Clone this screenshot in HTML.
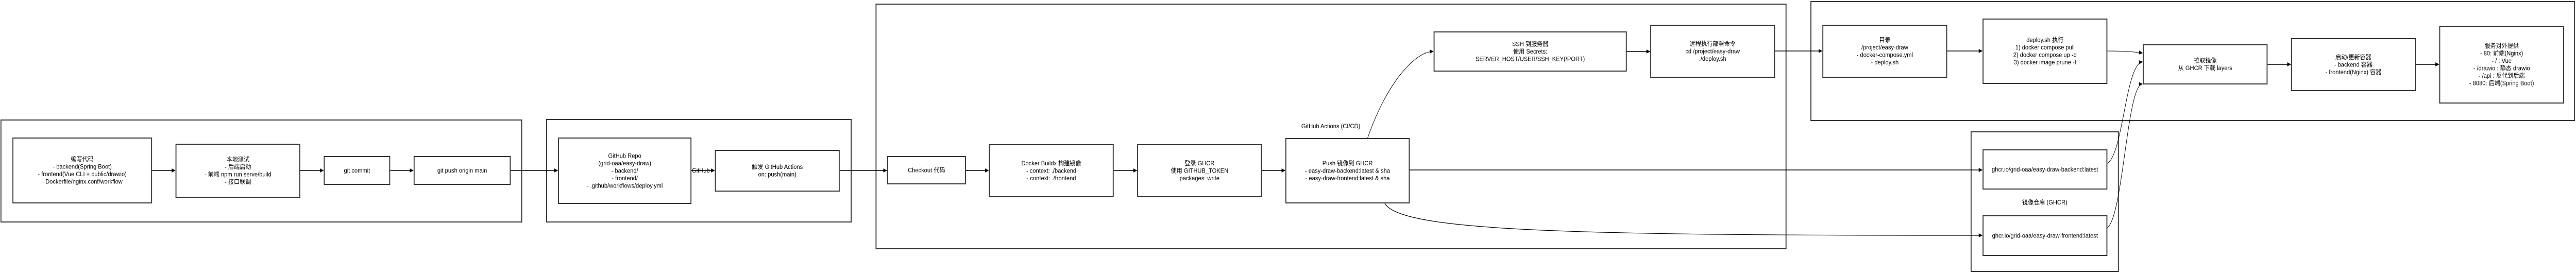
<!DOCTYPE html>
<html><head><meta charset="utf-8"><style>
html,body{margin:0;padding:0;background:#fff;overflow:hidden;height:532px;}
svg{display:block;width:100%;height:532px;}
text{font-family:"Liberation Sans","Noto Sans CJK SC",sans-serif;font-size:12px;fill:#000;}
.m{text-anchor:middle;}
.c{fill:none;stroke:#333;stroke-width:2;}
.b{fill:#fff;stroke:#333;stroke-width:2;}
</style></head><body>
<svg viewBox="0 0 5387 532" preserveAspectRatio="none">
<defs><marker id="a" markerWidth="8" markerHeight="8" refX="7" refY="4" orient="auto" markerUnits="userSpaceOnUse"><path d="M0,0 L8,4 L0,8 z" fill="#000"/></marker></defs>
<rect class="c" x="2" y="233" width="1089" height="198"/>
<rect class="c" x="1143" y="232" width="637" height="199"/>
<rect class="c" x="1832" y="8" width="1903" height="475"/>
<rect class="c" x="3787" y="3" width="1597" height="231"/>
<rect class="c" x="4122" y="256" width="308" height="271"/>
<g stroke="#000" stroke-width="1.5" fill="none" marker-end="url(#a)">
<line x1="318" y1="331" x2="366" y2="331"/>
<line x1="628" y1="331" x2="676" y2="331"/>
<line x1="816" y1="331" x2="864" y2="331"/>
<line x1="1068" y1="331" x2="1166" y2="331"/>
<line x1="1446" y1="331" x2="1494" y2="331"/>
<line x1="1756" y1="331" x2="1854" y2="331"/>
<line x1="2020" y1="331" x2="2067" y2="331"/>
<line x1="2329" y1="331" x2="2377" y2="331"/>
<line x1="2639" y1="331" x2="2687" y2="331"/>
<line x1="2948" y1="330" x2="4145" y2="330"/>
<path d="M2860,268 C2900,160 2960,100 2997,100" stroke-width="1"/>
<line x1="3402" y1="100" x2="3450" y2="100"/>
<line x1="3712" y1="99" x2="3810" y2="99"/>
<line x1="4072" y1="99" x2="4145" y2="99"/>
<path d="M4407,99 C4440,99 4460,100 4480,103" stroke-width="1"/>
<line x1="4742" y1="125" x2="4790" y2="125"/>
<line x1="5052" y1="125" x2="5100" y2="125"/>
<path d="M2896,395 C2930,450 3300,457 4145,457" stroke-width="1.2"/>
<path d="M4407,317 C4440,300 4445,125 4480,120" stroke-width="1"/>
<path d="M4407,442 C4440,420 4448,165 4480,163" stroke-width="1"/>
</g>
<text x="1447" y="335">GitHub</text>
<text class="m" x="2783" y="249">GitHub Actions (CI/CD)</text>
<text class="m" x="4276" y="397">镜像仓库 (GHCR)</text>

<rect class="b" x="27" y="268" width="290" height="126"/>
<text class="m" x="172"><tspan x="172" y="313.25">编写代码</tspan><tspan x="172" y="327.75">- backend(Spring Boot)</tspan><tspan x="172" y="342.25">- frontend(Vue CLI + public/drawio)</tspan><tspan x="172" y="356.75">- Dockerfile/nginx.conf/workflow</tspan></text>

<rect class="b" x="368" y="280" width="259" height="103"/>
<text class="m"><tspan x="497.5" y="313.75">本地测试</tspan><tspan x="497.5" y="328.25">- 后端启动</tspan><tspan x="497.5" y="342.75">- 前端 npm run serve/build</tspan><tspan x="497.5" y="357.25">- 接口联调</tspan></text>

<rect class="b" x="678" y="304" width="137" height="54"/>
<text class="m" x="746.5" y="335">git commit</text>

<rect class="b" x="866" y="304" width="201" height="54"/>
<text class="m" x="966.5" y="335">git push origin main</text>

<rect class="b" x="1168" y="268" width="277" height="127"/>
<text class="m"><tspan x="1306.5" y="306.5">GitHub Repo</tspan><tspan x="1306.5" y="321">(grid-oaa/easy-draw)</tspan><tspan x="1306.5" y="335.5">- backend/</tspan><tspan x="1306.5" y="350">- frontend/</tspan><tspan x="1306.5" y="364.5">- .github/workflows/deploy.yml</tspan></text>

<rect class="b" x="1496" y="292" width="259" height="79"/>
<text class="m"><tspan x="1625.5" y="328.25">触发 GitHub Actions</tspan><tspan x="1625.5" y="342.75">on: push(main)</tspan></text>

<rect class="b" x="1856" y="304" width="163" height="53"/>
<text class="m" x="1937.5" y="334.5">Checkout 代码</text>

<rect class="b" x="2069" y="281" width="259" height="101"/>
<text class="m"><tspan x="2198.5" y="321">Docker Buildx 构建镜像</tspan><tspan x="2198.5" y="335.5">- context: ./backend</tspan><tspan x="2198.5" y="350">- context: ./frontend</tspan></text>

<rect class="b" x="2379" y="281" width="259" height="101"/>
<text class="m"><tspan x="2508.5" y="321">登录 GHCR</tspan><tspan x="2508.5" y="335.5">使用 GITHUB_TOKEN</tspan><tspan x="2508.5" y="350">packages: write</tspan></text>

<rect class="b" x="2689" y="269" width="258" height="125"/>
<text class="m"><tspan x="2818" y="321">Push 镜像到 GHCR</tspan><tspan x="2818" y="335.5">- easy-draw-backend:latest &amp; sha</tspan><tspan x="2818" y="350">- easy-draw-frontend:latest &amp; sha</tspan></text>

<rect class="b" x="2999" y="62" width="402" height="76"/>
<text class="m"><tspan x="3200" y="89.5">SSH 到服务器</tspan><tspan x="3200" y="104">使用 Secrets:</tspan><tspan x="3200" y="118.5">SERVER_HOST/USER/SSH_KEY(/PORT)</tspan></text>

<rect class="b" x="3452" y="49" width="259" height="101"/>
<text class="m"><tspan x="3581.5" y="89">远程执行部署命令</tspan><tspan x="3581.5" y="103.5">cd /project/easy-draw</tspan><tspan x="3581.5" y="118">./deploy.sh</tspan></text>

<rect class="b" x="3812" y="49" width="259" height="101"/>
<text class="m"><tspan x="3941.5" y="81.75">目录</tspan><tspan x="3941.5" y="96.25">/project/easy-draw</tspan><tspan x="3941.5" y="110.75">- docker-compose.yml</tspan><tspan x="3941.5" y="125.25">- deploy.sh</tspan></text>

<rect class="b" x="4147" y="37" width="259" height="125"/>
<text class="m"><tspan x="4276.5" y="81.75">deploy.sh 执行</tspan><tspan x="4276.5" y="96.25">1) docker compose pull</tspan><tspan x="4276.5" y="110.75">2) docker compose up -d</tspan><tspan x="4276.5" y="125.25">3) docker image prune -f</tspan></text>

<rect class="b" x="4482" y="87" width="259" height="76"/>
<text class="m"><tspan x="4611.5" y="121.75">拉取镜像</tspan><tspan x="4611.5" y="136.25">从 GHCR 下载 layers</tspan></text>

<rect class="b" x="4792" y="75" width="259" height="101"/>
<text class="m"><tspan x="4921.5" y="115">启动/更新容器</tspan><tspan x="4921.5" y="129.5">- backend 容器</tspan><tspan x="4921.5" y="144">- frontend(Nginx) 容器</tspan></text>

<rect class="b" x="5102" y="51" width="259" height="149"/>
<text class="m"><tspan x="5231.5" y="93.25">服务对外提供</tspan><tspan x="5231.5" y="107.75">- 80: 前端(Nginx)</tspan><tspan x="5231.5" y="122.25">- / : Vue</tspan><tspan x="5231.5" y="136.75">- /drawio : 静态 drawio</tspan><tspan x="5231.5" y="151.25">- /api : 反代到后端</tspan><tspan x="5231.5" y="165.75">- 8080: 后端(Spring Boot)</tspan></text>

<rect class="b" x="4147" y="291" width="259" height="76"/>
<text class="m" x="4276.5" y="333">ghcr.io/grid-oaa/easy-draw-backend:latest</text>

<rect class="b" x="4147" y="419" width="259" height="77"/>
<text class="m" x="4276.5" y="461.5">ghcr.io/grid-oaa/easy-draw-frontend:latest</text>
</svg>
</body></html>
